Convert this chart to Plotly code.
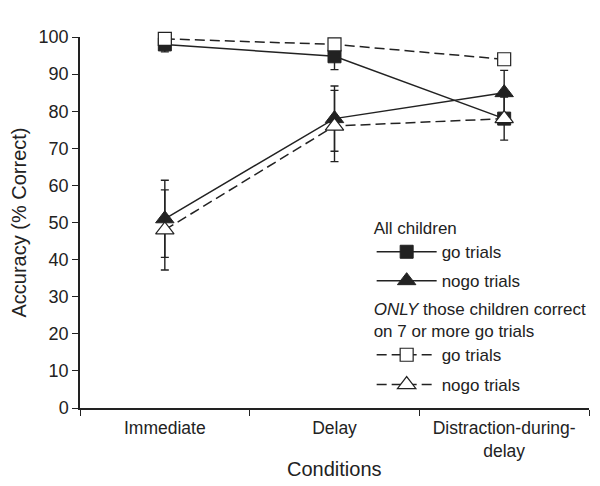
import plotly.graph_objects as go

# Conditions (x categories)
conditions = ["Immediate", "Delay", "Distraction-during-<br>delay"]

# All children
go_all = [98, 94.8, 78]
go_all_err = [2, 3.6, 5.8]
nogo_all = [51, 78, 85]
nogo_all_err = [10.4, 8.8, 6]

# ONLY those children correct on 7 or more go trials
go_only = [99.5, 98, 94]
nogo_only = [48, 76, 78]
nogo_only_err = [10.8, 9.6, 0]

ink = "#222222"
font = "Liberation Sans, Arial, sans-serif"


def err(vals):
    return dict(type="data", array=vals, visible=True, color=ink,
                thickness=1.4, width=4)


fig = go.Figure()

fig.add_trace(go.Scatter(
    x=conditions, y=go_all, name="go trials", mode="lines+markers",
    line=dict(color=ink, width=1.5),
    marker=dict(symbol="square", size=13, color=ink, line=dict(color=ink, width=1)),
    error_y=err(go_all_err), legend="legend", cliponaxis=False,
))
fig.add_trace(go.Scatter(
    x=conditions, y=nogo_all, name="nogo trials", mode="lines+markers",
    line=dict(color=ink, width=1.5),
    marker=dict(symbol="triangle-up", size=16, color=ink, line=dict(color=ink, width=1)),
    error_y=err(nogo_all_err), legend="legend2", cliponaxis=False,
))
fig.add_trace(go.Scatter(
    x=conditions, y=go_only, name="go trials", mode="lines+markers",
    line=dict(color=ink, width=1.5, dash="10px,5px"),
    marker=dict(symbol="square", size=13, color="white", line=dict(color=ink, width=1.2)),
    legend="legend3", cliponaxis=False,
))
fig.add_trace(go.Scatter(
    x=conditions, y=nogo_only, name="nogo trials", mode="lines+markers",
    line=dict(color=ink, width=1.5, dash="10px,5px"),
    marker=dict(symbol="triangle-up", size=16, color="white", line=dict(color=ink, width=1.2)),
    error_y=err(nogo_only_err), legend="legend4", cliponaxis=False,
))

# legend boxes, one per row so the spacing can follow the original
lx = 0.573
legend_style = dict(
    bgcolor="rgba(0,0,0,0)", borderwidth=0, itemwidth=60,
    font=dict(family=font, size=17, color=ink),
    xanchor="left", x=lx,
)
title_font = dict(family=font, size=17, color=ink)

fig.update_layout(
    width=600, height=486,
    margin=dict(l=72, r=19, t=29, b=86),
    paper_bgcolor="white", plot_bgcolor="white",
    font=dict(family=font, size=17, color=ink),
    showlegend=True,
    legend=dict(legend_style, y=0.528, yanchor="top",
                title=dict(text="All children", font=title_font)),
    legend2=dict(legend_style, y=0.342, yanchor="middle"),
    legend3=dict(legend_style, y=0.31, yanchor="top",
                 title=dict(text="<i>ONLY</i> those children correct<br>on 7 or more go trials",
                            font=title_font)),
    legend4=dict(legend_style, y=0.062, yanchor="middle"),
    xaxis=dict(
        type="category", range=[-0.5, 2.5], tickson="boundaries", automargin=False,
        ticks="outside", ticklen=6, tickwidth=1.4, tickcolor=ink, ticklabelstandoff=3,
        showline=True, linecolor=ink, linewidth=1.5, showgrid=False, zeroline=False,
        tickfont=dict(family=font, size=17.5, color=ink),
    ),
    yaxis=dict(
        range=[0, 100], tickvals=[0, 10, 20, 30, 40, 50, 60, 70, 80, 90, 100], automargin=False,
        ticks="outside", ticklen=6, tickwidth=1.4, tickcolor=ink,
        showline=True, linecolor=ink, linewidth=1.5, showgrid=False, zeroline=False,
        tickfont=dict(family=font, size=18, color=ink),
        title=dict(text="Accuracy (% Correct)", font=dict(family=font, size=20, color=ink), standoff=8),
    ),
    annotations=[dict(
        text="Conditions", xref="paper", yref="paper", x=0.5, y=-0.165,
        xanchor="center", yanchor="middle", showarrow=False,
        font=dict(family=font, size=20, color=ink),
    )],
)

fig.write_html("out.html")
